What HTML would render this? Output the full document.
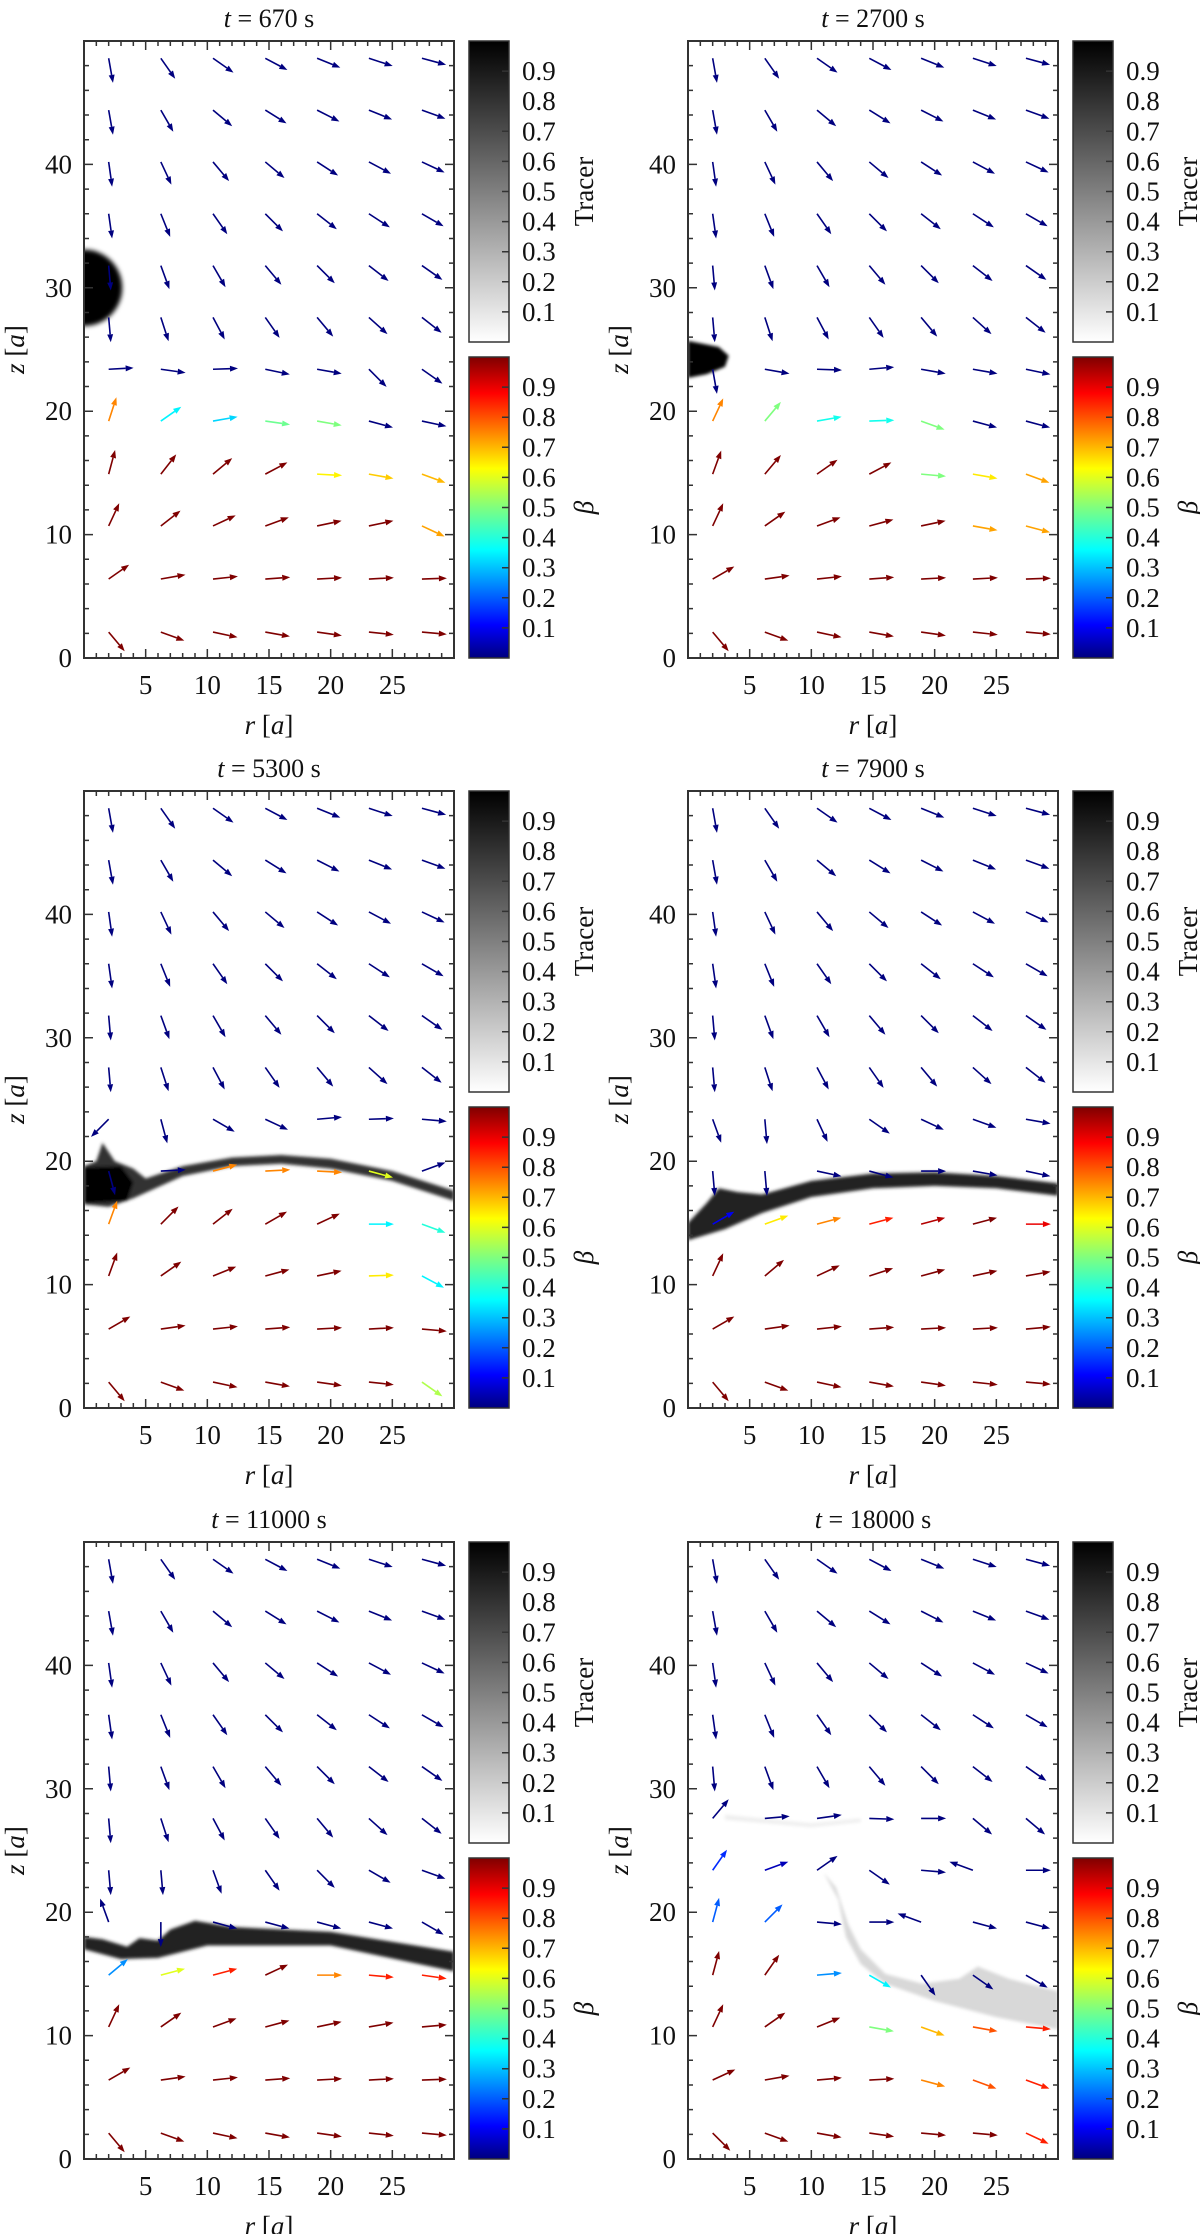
<!DOCTYPE html>
<html><head><meta charset="utf-8">
<style>
html,body{margin:0;padding:0;background:#fff;}
svg{display:block;font-family:"Liberation Serif",serif;}
</style></head>
<body>
<svg id="fig" width="1200" height="2234" viewBox="0 0 1200 2234" xmlns="http://www.w3.org/2000/svg">
<defs>
<linearGradient id="gTracer" x1="0" y1="1" x2="0" y2="0">
<stop offset="0" stop-color="#ffffff"/><stop offset="1" stop-color="#000000"/>
</linearGradient>
<linearGradient id="gBeta" x1="0" y1="1" x2="0" y2="0">
<stop offset="0" stop-color="#00007f"/><stop offset="0.11" stop-color="#0000ff"/>
<stop offset="0.36" stop-color="#00ffff"/><stop offset="0.5" stop-color="#7fff7f"/>
<stop offset="0.63" stop-color="#ffff00"/><stop offset="0.88" stop-color="#ff0000"/>
<stop offset="1" stop-color="#7f0000"/>
</linearGradient>
<filter id="blur2" x="-20%" y="-20%" width="140%" height="140%"><feGaussianBlur stdDeviation="2.5"/></filter>
<filter id="blur1" x="-20%" y="-20%" width="140%" height="140%"><feGaussianBlur stdDeviation="1.5"/></filter>
</defs>
</svg>
<script>
// grid of arrow tails (data units)
const gridR = [2, 6.23, 10.46, 14.7, 18.9, 23.1, 27.4];
const gridZ = [2.1, 6.4, 10.7, 14.9, 19.2, 23.4, 27.6, 31.8, 36.0, 40.2, 44.4, 48.6];
const titles = ["670", "2700", "5300", "7900", "11000", "18000"];
const xTicks = [5, 10, 15, 20, 25];
const yTicks = [0, 10, 20, 30, 40];
const cbTicks = [0.1, 0.2, 0.3, 0.4, 0.5, 0.6, 0.7, 0.8, 0.9];

// upper common field (rows z=27.6..48.6), angles in degrees
const upperAngles = [
 [-85,-72,-62,-55,-50,-42,-38],
 [-85,-70,-60,-50,-45,-38,-35],
 [-82,-68,-55,-45,-38,-33,-30],
 [-82,-65,-50,-40,-33,-28,-25],
 [-80,-60,-40,-32,-27,-22,-20],
 [-80,-55,-35,-28,-22,-18,-15]
];
const upperBeta = [0,0,0,0,0,0,0];

// Panel-specific lower rows (z = 2.1, 6.4, 10.7, 14.9, 19.2, 23.4)
const ang1 = [[-50,-20,-12,-10,-8,-6,-5],[35,10,6,4,3,3,2],[65,38,25,20,12,12,-25],[75,52,40,28,-3,-10,-20],[72,35,10,-8,-10,-15,-12],[3,-8,2,-12,-10,-45,-35]];
const beta1 = [[1,1,1,1,1,1,1],[1,1,1,1,1,1,1],[1,1,1,1,1,1,0.72],[1,1,1,1,0.64,0.68,0.7],[0.75,0.35,0.32,0.48,0.5,0,0],[0,0,0,0,0,0,0]];
const ang2 = [[-50,-20,-12,-10,-8,-6,-5],[30,8,6,4,3,3,2],[65,35,20,15,12,-10,-15],[70,50,35,28,-5,-10,-20],[65,50,10,2,-20,-15,-15],[-80,-10,-2,5,-10,-10,-12]];
const beta2 = [[1,1,1,1,1,1,1],[1,1,1,1,1,1,1],[1,1,1,1,1,0.72,0.72],[1,1,1,1,0.5,0.65,0.72],[0.75,0.5,0.38,0.38,0.5,0,0],[0,0,0,0,0,0,0]];
const ang3 = [[-50,-20,-12,-10,-8,-6,-35],[30,8,6,4,3,3,-5],[70,35,22,15,12,2,-28],[70,45,38,30,25,0,-20],[-75,3,15,3,-3,-15,20],[-135,-75,-30,-25,5,2,-5]];
const beta3 = [[1,1,1,1,1,1,0.55],[1,1,1,1,1,1,1],[1,1,1,1,1,0.65,0.35],[0.75,1,1,1,1,0.35,0.4],[0,0,0.75,0.75,0.75,0.6,0],[0,0,0,0,0,0,0]];
const ang4 = [[-50,-20,-12,-10,-8,-6,-5],[30,8,6,4,3,3,5],[65,40,25,18,15,12,10],[30,20,15,15,15,15,0],[-85,-85,-12,-15,0,-10,-12],[-70,-85,-65,-35,-25,-20,-10]];
const beta4 = [[1,1,1,1,1,1,1],[1,1,1,1,1,1,1],[1,1,1,1,1,1,1],[0.1,0.65,0.75,0.85,0.95,1,0.9],[0,0,0,0,0,0,0],[0,0,0,0,0,0,0]];
const ang5 = [[-50,-20,-12,-10,-8,-6,-5],[30,8,6,4,3,3,2],[65,35,20,15,12,10,5],[40,15,15,25,0,-5,-8],[110,-90,-15,-15,-15,-15,-30],[-85,-85,-70,-55,-45,-30,-20]];
const beta5 = [[1,1,1,1,1,1,1],[1,1,1,1,1,1,1],[1,1,1,1,1,1,1],[0.25,0.6,0.85,1,0.75,0.85,0.85],[0,0,0,0,0,0,0],[0,0,0,0,0,0,0]];
const ang6 = [[-45,-20,-10,-8,-5,-5,-25],[25,10,5,3,-15,-20,-20],[65,35,22,-10,-20,-10,-5],[75,55,5,-30,-55,-35,-30],[75,45,-5,0,160,-15,-15],[55,20,35,-35,-5,160,0]];
const beta6 = [[1,1,1,1,1,1,0.85],[1,1,1,1,0.75,0.8,0.85],[1,1,1,0.5,0.7,0.8,0.85],[1,1,0.25,0.35,0,0,0],[0.2,0.2,0,0,0,0,0],[0.15,0.05,0,0,0,0,0]];
const row27_6 = [[50,5,8,-2,0,-40,-40]]; // panel 6 override at z=27.6

const panelAngles = [ang1, ang2, ang3, ang4, ang5, ang6];
const panelBetas = [beta1, beta2, beta3, beta4, beta5, beta6];

// tracer shapes (data coords [r,z]) per panel
const tracer = [
 [{type:'circle', c:[0,30], rad:3.1, fill:'#000'}],
 [{type:'poly', pts:[[0,22.7],[1.5,23.0],[3.0,23.6],[3.3,24.5],[2.5,25.2],[1.0,25.5],[0,25.7]], fill:'#000'}],
 [{type:'poly', pts:[[0,16.5],[2,16.3],[4,17],[8,18.8],[12,19.6],[16,19.8],[20,19.4],[25,18.4],[30,16.8],[30,17.6],[25,19.2],[20,20.2],[16,20.5],[12,20.3],[8,19.6],[5,18.6],[4,19.4],[2.5,20],[1.5,21.5],[1,20],[0,19.6]], fill:'#333'},
  {type:'poly', pts:[[0,16.6],[3.5,16.8],[4,18.3],[3,19.6],[0,19.5]], fill:'#000'}],
 [{type:'poly', pts:[[0,13.6],[3,14.5],[6,15.8],[10,17.1],[15,17.8],[20,18.0],[25,17.8],[30,17.2],[30,18.2],[25,18.8],[20,19.1],[15,19.0],[10,18.4],[6,17.3],[4,17.5],[2.5,17.8],[1.5,16.6],[0,15.0]], fill:'#222'}],
 [{type:'poly', pts:[[0,17.0],[3,16.2],[6,16.3],[10,17.3],[20,17.3],[30,15.2],[30,16.8],[20,18.4],[12,18.8],[9,19.3],[7,18.6],[6,17.7],[4.5,17.9],[3.5,17.2],[1.5,17.8],[0,18.0]], fill:'#222'}],
 [{type:'poly', pts:[[11,23.2],[12,22],[13,19],[14,17],[16,15],[19,14.2],[22,14.6],[23.5,15.6],[26,14.6],[30,13.6],[30,10.5],[25,11.5],[20,12.8],[16,14.2],[14,15.8],[12.8,18],[12.2,21]], fill:'#d8d8d8'},
  {type:'poly', pts:[[3,27.9],[10,27.2],[14,27.6],[14,27.3],[10,26.9],[3,27.5]], fill:'#eeeeee'}]
];

const colX = [84, 688];
const rowY = [41, 791, 1542];
const PW = 370, PH = 617;
const svg = document.getElementById('fig');
const NS = 'http://www.w3.org/2000/svg';

function jet(b){
  const stops=[[0,[0,0,127]],[0.11,[0,0,255]],[0.36,[0,255,255]],[0.5,[127,255,127]],[0.63,[255,255,0]],[0.88,[255,0,0]],[1,[127,0,0]]];
  for(let i=1;i<stops.length;i++){ if(b<=stops[i][0]){ const a=stops[i-1],c=stops[i]; const t=(b-a[0])/(c[0]-a[0]); const col=a[1].map((v,k)=>Math.round(v+(c[1][k]-v)*t)); return 'rgb('+col.join(',')+')'; } }
  return 'rgb(127,0,0)';
}
function el(tag, attrs, parent){ const e=document.createElementNS(NS,tag); for(const k in attrs) e.setAttribute(k,attrs[k]); (parent||svg).appendChild(e); return e; }

for(let p=0;p<6;p++){
  const x0 = colX[p%2], y0 = rowY[Math.floor(p/2)];
  const xs = r => x0 + r/30*PW;
  const ys = z => y0 + PH - z/50*PH;
  const g = el('g',{});
  
  

  const t = el('text',{x:x0+PW/2, y:y0-14, 'font-size':26, 'text-anchor':'middle', fill:'#111'}, g);
  
  
  t.innerHTML = '<tspan font-style="italic">t</tspan> = '+titles[p]+' s';

  // tracer
  const tg = el('g',{filter: p===0?'url(#blur2)':'url(#blur1)'}, g);
  
  
  const cp = el('clipPath',{id:'cp'+p}, g);
  el('rect',{x:x0,y:y0,width:PW,height:PH}, cp);
  tg.setAttribute('clip-path','url(#cp'+p+')');
  tracer[p].forEach(s=>{
    if(s.type==='circle'){
      const c = el('circle',{cx:xs(s.c[0]), cy:ys(s.c[1]), r:s.rad/30*PW, fill:s.fill}, tg);
      
      
    } else {
      const pg = el('polygon',{points:s.pts.map(q=>xs(q[0]).toFixed(1)+','+ys(q[1]).toFixed(1)).join(' '), fill:s.fill}, tg);
      
      
    }
  });

  // arrows
  const ag = el('g',{}, g);
  
  
  for(let j=0;j<gridZ.length;j++){
    for(let i=0;i<gridR.length;i++){
      let a, b;
      if(j<6){ a = panelAngles[p][j][i]; b = panelBetas[p][j][i]; }
      else if(p===5 && j===6){ a = row27_6[0][i]; b = 0; }
      else { a = upperAngles[j-6][i]; b = upperBeta[i]; }
      const L = 25, rad = a*Math.PI/180;
      const x1 = xs(gridR[i]), y1 = ys(gridZ[j]);
      const x2 = x1 + L*Math.cos(rad), y2 = y1 - L*Math.sin(rad);
      const col = jet(b);
      const ux = Math.cos(rad), uy = -Math.sin(rad);
      const hx = x2 - 8*ux, hy = y2 - 8*uy;
      const ln = el('line',{x1:x1,y1:y1,x2:hx,y2:hy,stroke:col,'stroke-width':1.6}, ag);
      
      
      const hd = el('polygon',{points:[x2,y2, hx+3*uy,hy-3*ux, hx-3*uy,hy+3*ux].map(v=>v.toFixed(1)).join(' '), fill:col}, ag);
      
      
    }
  }

  // frame and ticks
  const fr = el('rect',{x:x0,y:y0,width:PW,height:PH,fill:'none',stroke:'#333','stroke-width':2}, g);
  
  
  let d='';
  for(let r=1;r<30;r++){ const L = r%5===0?9:5; const X=xs(r); d+=`M${X},${y0+PH}v${-L}M${X},${y0}v${L}`; }
  for(let z=2;z<50;z+=2){ const L = z%10===0?9:5; const Y=ys(z); d+=`M${x0},${Y}h${L}M${x0+PW},${Y}h${-L}`; }
  const tk = el('path',{d:d,stroke:'#333','stroke-width':1.5,fill:'none'}, g);
  
  
  xTicks.forEach(v=>{ const e=el('text',{x:xs(v),y:y0+PH+36,'font-size':27,'text-anchor':'middle',fill:'#111'},g); e.textContent=v;
      });
  yTicks.forEach(v=>{ const e=el('text',{x:x0-12,y:ys(v)+9,'font-size':27,'text-anchor':'end',fill:'#111'},g); e.textContent=v;
      });
  const xl = el('text',{x:x0+PW/2,y:y0+PH+76,'font-size':27,'text-anchor':'middle',fill:'#111'},g);
  xl.innerHTML='<tspan font-style="italic">r</tspan> [<tspan font-style="italic">a</tspan>]';
   
  const yl = el('text',{x:0,y:0,'font-size':27,'text-anchor':'middle',fill:'#111',transform:`translate(${x0-60},${y0+PH/2}) rotate(-90)`},g);
  yl.innerHTML='<tspan font-style="italic">z</tspan> [<tspan font-style="italic">a</tspan>]';
   

  // colorbars
  const cx = x0+PW+15, cw = 40;
  const bars = [{y:y0, h:301, grad:'url(#gTracer)', label:'Tracer', name:'tracer-colorbar'},
                {y:y0+316, h:301, grad:'url(#gBeta)', label:'β', name:'beta-colorbar'}];
  bars.forEach(bb=>{
    const cb = el('rect',{x:cx,y:bb.y,width:cw,height:bb.h,fill:bb.grad,stroke:'#333','stroke-width':1.5}, g);
     
    let dd='';
    cbTicks.forEach(v=>{ const Y = bb.y+bb.h - v*bb.h; dd+=`M${cx+cw},${Y}h-7`;
      const e=el('text',{x:cx+53,y:Y+9,'font-size':27,fill:'#111'},g); e.textContent=v.toFixed(1);
        });
    const ct = el('path',{d:dd,stroke:'#333','stroke-width':1.5}, g);
     
    const lb = el('text',{x:0,y:0,'font-size':27,'text-anchor':'middle',fill:'#111','font-style':bb.label==='β'?'italic':'normal',transform:`translate(${cx+124},${bb.y+bb.h/2}) rotate(-90)`},g);
    lb.textContent = bb.label;
     
  });
}
</script>
</body></html>
